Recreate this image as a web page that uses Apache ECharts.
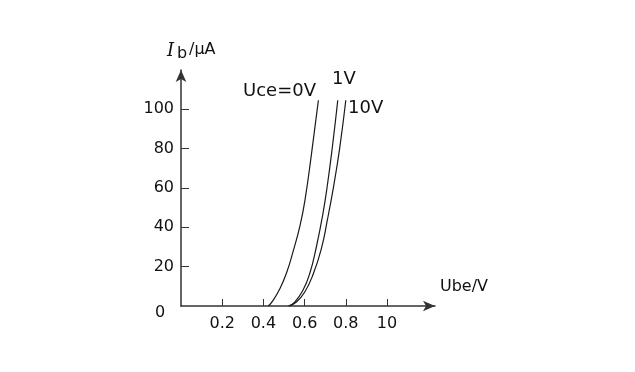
<!DOCTYPE html>
<html lang="en">
<head>
    <meta charset="UTF-8"/>
    <title>input characteristic</title>
    <script src="https://cdn.jsdelivr.net/npm/echarts@6/dist/echarts.min.js"></script>
</head>
<body style="margin:0;background:#fff">
<div id="main" style="width: 635px;height:372px;"></div>

<script type="text/javascript">
    // Ube (V) / Ib (uA) points
    var uce0 = [[0.424, 0], [0.448, 3], [0.481, 9], [0.513, 17], [0.545, 28], [0.578, 41], [0.602, 54], [0.633, 77], [0.667, 104.6]];
    var uce1 = [[0.521, 0], [0.552, 2], [0.592, 8], [0.625, 16.5], [0.657, 30], [0.689, 47], [0.710, 61], [0.735, 81], [0.761, 104.6]];
    var uce10 = [[0.525, 0], [0.560, 2], [0.600, 7], [0.641, 16], [0.681, 29], [0.711, 44], [0.741, 61], [0.770, 80], [0.800, 104.6]];

    var xTickValues = [0.2, 0.4, 0.6, 0.8, 1.0];
    var xTickLabels = ['0.2', '0.4', '0.6', '0.8', '10'];
    var yTickValues = [20, 40, 60, 80, 100];

    var font = '"DejaVu Sans", sans-serif';
    var myChart = echarts.init(document.getElementById('main'));

    function line(data) {
        return {
            type: 'line',
            data: data,
            smooth: true,
            symbol: 'none',
            lineStyle: {color: '#1a1a1a', width: 1.2}
        };
    }

    var option = {
        animation: false,
        grid: {left: 181, top: 70, right: 200, bottom: 66},
        xAxis: {
            type: 'value',
            min: 0,
            max: 1.233,
            splitLine: {show: false},
            axisLine: {
                lineStyle: {color: '#333', width: 1.5},
                symbol: ['none', 'arrow'],
                symbolSize: [8, 12]
            },
            axisTick: {inside: true, length: 7, customValues: xTickValues, lineStyle: {color: '#333'}},
            axisLabel: {
                customValues: xTickValues,
                margin: 10,
                color: '#111',
                fontSize: 16,
                fontFamily: font,
                formatter: function (v) {
                    var i = xTickValues.indexOf(v);
                    return i < 0 ? '' : xTickLabels[i];
                }
            }
        },
        yAxis: {
            type: 'value',
            min: 0,
            max: 120,
            splitLine: {show: false},
            axisLine: {
                lineStyle: {color: '#333', width: 1.5},
                symbol: ['none', 'arrow'],
                symbolSize: [8, 12]
            },
            axisTick: {inside: true, length: 8, customValues: yTickValues, lineStyle: {color: '#333'}},
            axisLabel: {
                customValues: yTickValues,
                margin: 7,
                color: '#111',
                fontSize: 16,
                fontFamily: font
            }
        },
        graphic: [
            {type: 'text', left: 155, top: 305, style: {text: '0', fontSize: 16, fontFamily: font, fill: '#111'}},
            {type: 'text', left: 167, top: 42, style: {text: 'I', fontSize: 18, fontStyle: 'italic', fontFamily: '"DejaVu Serif", serif', fill: '#111'}},
            {type: 'text', left: 177, top: 46, style: {text: 'b', fontSize: 16, fontFamily: font, fill: '#111'}},
            {type: 'text', left: 189, top: 42, style: {text: '/μA', fontSize: 16, fontFamily: font, fill: '#111'}},
            {type: 'text', left: 440, top: 279, style: {text: 'Ube/V', fontSize: 16, fontFamily: font, fill: '#111'}},
            {type: 'text', left: 243, top: 82, style: {text: 'Uce=0V', fontSize: 18, fontFamily: font, fill: '#111'}},
            {type: 'text', left: 332, top: 70, style: {text: '1V', fontSize: 18, fontFamily: font, fill: '#111'}},
            {type: 'text', left: 348, top: 99, style: {text: '10V', fontSize: 18, fontFamily: font, fill: '#111'}}
        ],
        series: [line(uce0), line(uce1), line(uce10)]
    };
    myChart.setOption(option);
</script>
</body>
</html>
